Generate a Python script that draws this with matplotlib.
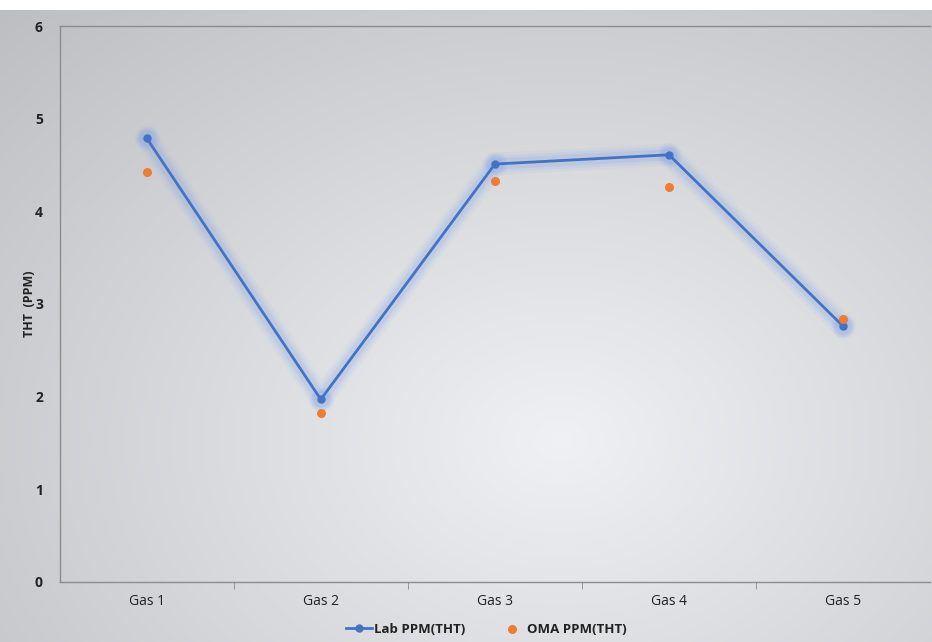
import matplotlib
matplotlib.use('Agg')
import matplotlib.pyplot as plt
import numpy as np

plt.rcParams['font.family'] = ['Open Sans', 'DejaVu Sans']

# 数据
gases = ['Gas 1', 'Gas 2', 'Gas 3', 'Gas 4', 'Gas 5']
lab_ppm = [4.79, 1.97, 4.51, 4.61, 2.76]
oma_ppm = [4.42, 1.82, 4.33, 4.26, 2.84]

fig = plt.figure(figsize=(9.32, 6.42), dpi=100)

# 背景渐变 (中间亮, 四周灰)
bg = fig.add_axes([0, 0, 1, 1], zorder=-10)
yy, xx = np.mgrid[0:642, 0:932]
r = np.sqrt(((xx - 560) / 680.0) ** 2 + ((yy - 440) / 520.0) ** 2)
v = np.clip(0.95 - 0.17 * r, 0.74, 0.96)
img = np.dstack([v - 0.012, v - 0.006, v + 0.004])
img[:10, :, :] = 1.0
bg.imshow(np.clip(img, 0, 1), aspect='auto', interpolation='bilinear')
bg.axis('off')

ax = fig.add_axes([0.064, 0.0935, 0.934, 0.866])
ax.set_facecolor('none')
x = np.arange(len(gases))

# 发光效果
for lw, a in [(16, 0.06), (12, 0.09), (8, 0.14)]:
    ax.plot(x, lab_ppm, color='#6f9bf0', linewidth=lw, alpha=a,
            solid_capstyle='round', solid_joinstyle='round')
    ax.scatter(x, lab_ppm, s=lw * 20, color='#6f9bf0', alpha=a, linewidths=0)
l1, = ax.plot(x, lab_ppm, color='#4472c4', linewidth=2, marker='o', markersize=5,
              label='Lab PPM(THT)')
l2 = ax.scatter(x, oma_ppm, s=30, color='#ed7d31', zorder=5, label='OMA PPM(THT)')

ax.set_xlim(-0.5, 4.5)
ax.set_ylim(0, 6)
ax.set_xticks(x)
ax.set_xticklabels(gases, fontsize=10)
ax.set_xticks(np.arange(0.5, 4.5, 1), minor=True)
ax.tick_params(axis='x', which='major', length=0, pad=9, labelcolor='#222222')
ax.tick_params(axis='x', which='minor', length=5, color='#8c8c8c', direction='out')
ax.set_yticks(range(7))
ax.set_yticklabels([str(i) for i in range(7)], fontsize=10, fontweight='bold')
ax.tick_params(axis='y', length=0, pad=12, labelcolor='#222222')
ax.set_ylabel('THT  (PPM)', fontsize=9, fontweight='bold', color='#222222')
ax.yaxis.set_label_coords(-0.027, 0.5)

for s in ['left', 'bottom', 'top']:
    ax.spines[s].set_color('#8c8c8c')
    ax.spines[s].set_linewidth(1)
ax.spines['right'].set_visible(False)

leg = ax.legend(handles=[l1, l2], loc='upper center', bbox_to_anchor=(0.49, -0.052),
                ncol=2, frameon=False, prop={'weight': 'bold', 'size': 9.5},
                handlelength=2.0, columnspacing=2.6, handletextpad=0.1)
for t in leg.get_texts():
    t.set_color('#222222')

fig.savefig('out.png', dpi=100)
